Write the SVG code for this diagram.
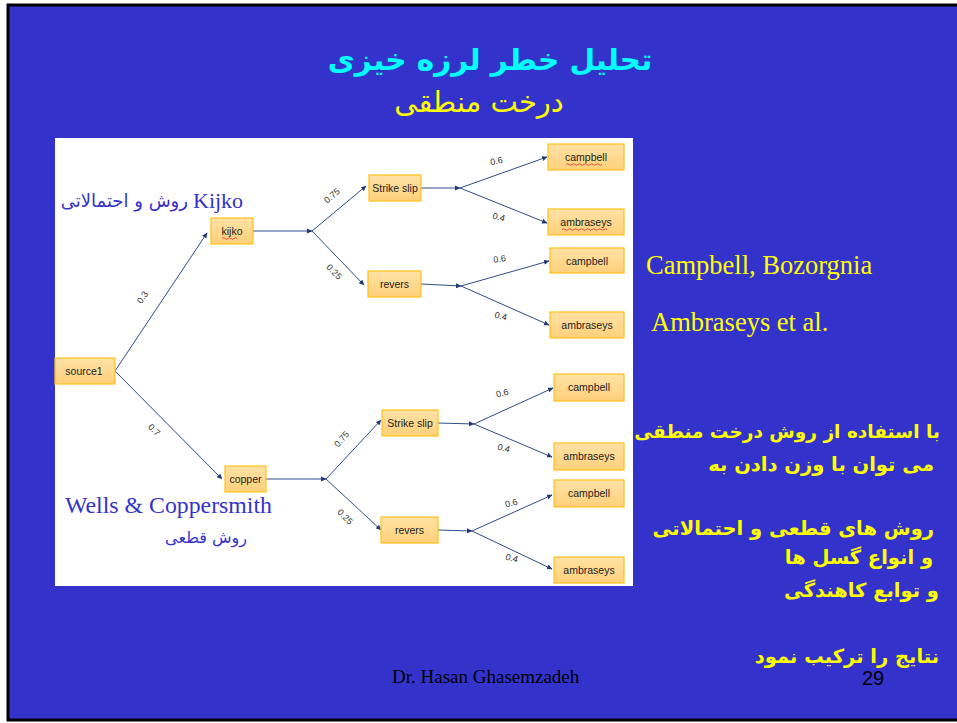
<svg xmlns="http://www.w3.org/2000/svg" width="957" height="723" viewBox="0 0 957 723">
<defs>
<marker id="ah" markerWidth="6" markerHeight="6" refX="5" refY="3" orient="auto" markerUnits="userSpaceOnUse">
<path d="M0,0.5 L5.5,3 L0,5.5 z" fill="#1F3A78"/>
</marker>
<linearGradient id="ng" x1="0" y1="0" x2="0" y2="1">
<stop offset="0" stop-color="#FFE2A6"/>
<stop offset="1" stop-color="#FFD07A"/>
</linearGradient>
</defs>
<style>
.node rect{fill:url(#ng);stroke:#FFC21A;stroke-width:1.2}
.node text{font-family:"Liberation Sans",Arial,sans-serif;font-size:10.5px;fill:#222;text-anchor:middle}
.conn line,.conn path{stroke:#2E4C88;stroke-width:1;fill:none}
.arr{marker-end:url(#ah)}
.el{font-family:"Liberation Sans",Arial,sans-serif;font-size:9px;fill:#333;text-anchor:middle}
.fa{font-family:"DejaVu Sans",sans-serif}
.ser{font-family:"Liberation Serif","Times New Roman",serif}
.sq{stroke:#E03030;stroke-width:0.8;fill:none}
</style>
<rect x="0" y="0" width="957" height="723" fill="#FFFFFF"/>
<rect x="8" y="5" width="960" height="715" fill="#3333CC" stroke="#000" stroke-width="3"/>

<text x="490" y="70" class="fa" font-size="29.5" font-weight="bold" fill="#00FFFF" text-anchor="middle">تحلیل خطر لرزه خیزی</text>
<text x="479" y="112" class="fa" font-size="29" fill="#FFFF00" text-anchor="middle">درخت منطقی</text>

<rect x="55" y="138" width="578" height="448" fill="#FFFFFF"/>

<g id="annotations">
<text x="193" y="208" class="ser" font-size="22" fill="#3333CC">Kijko</text>
<text x="188" y="207" class="fa" font-size="18" fill="#3333CC" text-anchor="end">روش و احتمالاتی</text>
<text x="65" y="513" class="ser" font-size="23.8" fill="#3333CC">Wells &amp; Coppersmith</text>
<text x="247" y="543" class="fa" font-size="16" fill="#3333CC" text-anchor="end">روش قطعی</text>
</g>

<g class="conn" id="connectors">
<line x1="115" y1="371" x2="207" y2="233" class="arr"/>
<line x1="115" y1="371" x2="222" y2="479" class="arr"/>
<line x1="253" y1="231" x2="312" y2="231" class="arr"/>
<line x1="312" y1="231" x2="366" y2="186" class="arr"/>
<line x1="312" y1="231" x2="364" y2="285" class="arr"/>
<line x1="421" y1="188" x2="460" y2="188" class="arr"/>
<line x1="460" y1="188" x2="547" y2="157" class="arr"/>
<line x1="460" y1="188" x2="547" y2="223" class="arr"/>
<line x1="421" y1="284" x2="461" y2="286" class="arr"/>
<line x1="461" y1="286" x2="549" y2="261" class="arr"/>
<line x1="461" y1="286" x2="549" y2="325" class="arr"/>
<line x1="266" y1="479" x2="326" y2="479" class="arr"/>
<line x1="326" y1="479" x2="381" y2="420" class="arr"/>
<line x1="326" y1="479" x2="381" y2="530" class="arr"/>
<line x1="438" y1="423" x2="474" y2="424" class="arr"/>
<line x1="474" y1="424" x2="553" y2="388" class="arr"/>
<line x1="474" y1="424" x2="552" y2="457" class="arr"/>
<line x1="438" y1="530" x2="472" y2="531" class="arr"/>
<line x1="472" y1="531" x2="552" y2="495" class="arr"/>
<line x1="472" y1="531" x2="552" y2="569" class="arr"/>
<g id="edge-labels">
<text class="el" transform="translate(145,299) rotate(-56)">0.3</text>
<text class="el" transform="translate(152,432) rotate(45)">0.7</text>
<text class="el" transform="translate(334,198) rotate(-40)">0.75</text>
<text class="el" transform="translate(332,274) rotate(45)">0.25</text>
<text class="el" transform="translate(497,164) rotate(-12)">0.6</text>
<text class="el" transform="translate(498,220) rotate(15)">0.4</text>
<text class="el" transform="translate(500,262) rotate(-8)">0.6</text>
<text class="el" transform="translate(500,319) rotate(15)">0.4</text>
<text class="el" transform="translate(344,441) rotate(-50)">0.75</text>
<text class="el" transform="translate(343,519) rotate(45)">0.25</text>
<text class="el" transform="translate(503,396) rotate(-15)">0.6</text>
<text class="el" transform="translate(503,451) rotate(15)">0.4</text>
<text class="el" transform="translate(512,506) rotate(-15)">0.6</text>
<text class="el" transform="translate(511,561) rotate(15)">0.4</text>
</g>
</g>

<g id="source1" class="node"><rect x="55" y="358" width="60" height="26"/><text x="84" y="375">source1</text></g>
<g id="kijko" class="node"><rect x="211" y="218" width="42" height="26"/><text x="232" y="235">kijko</text><path class="sq" d="M222,238.5 q1.5,-1.5 3,0 t3,0 t3,0 t3,0 t3,0"/></g>
<g id="copper" class="node"><rect x="225" y="466" width="41" height="26"/><text x="245.5" y="483">copper</text></g>
<g id="strike1" class="node"><rect x="369" y="175" width="52" height="26"/><text x="395" y="192">Strike slip</text></g>
<g id="revers1" class="node"><rect x="368" y="271" width="53" height="26"/><text x="394.5" y="288">revers</text></g>
<g id="campbell1" class="node"><rect x="548" y="144" width="76" height="26"/><text x="586" y="161">campbell</text><path class="sq" d="M566,164.5 q1.5,-1.5 3,0 t3,0 t3,0 t3,0 t3,0 t3,0 t3,0 t3,0 t3,0 t3,0 t3,0 t3,0"/></g>
<g id="ambraseys1" class="node"><rect x="548" y="209" width="76" height="26"/><text x="586" y="226">ambraseys</text><path class="sq" d="M562,229.5 q1.5,-1.5 3,0 t3,0 t3,0 t3,0 t3,0 t3,0 t3,0 t3,0 t3,0 t3,0 t3,0 t3,0 t3,0 t3,0 t3,0"/></g>
<g id="campbell2" class="node"><rect x="550" y="248" width="74" height="25"/><text x="587" y="265">campbell</text></g>
<g id="ambraseys2" class="node"><rect x="550" y="312" width="74" height="26"/><text x="587" y="329">ambraseys</text></g>
<g id="strike2" class="node"><rect x="382" y="410" width="56" height="26"/><text x="410" y="427">Strike slip</text></g>
<g id="revers2" class="node"><rect x="381" y="517" width="57" height="26"/><text x="409.5" y="534">revers</text></g>
<g id="campbell3" class="node"><rect x="554" y="374" width="70" height="27"/><text x="589" y="391">campbell</text></g>
<g id="ambraseys3" class="node"><rect x="554" y="443" width="70" height="27"/><text x="589" y="460">ambraseys</text></g>
<g id="campbell4" class="node"><rect x="554" y="480" width="70" height="27"/><text x="589" y="497">campbell</text></g>
<g id="ambraseys4" class="node"><rect x="554" y="557" width="70" height="26"/><text x="589" y="574">ambraseys</text></g>

<g id="side-text" fill="#FFFF00">
<text x="646" y="274" class="ser" font-size="26.5">Campbell, Bozorgnia</text>
<text x="651" y="331" class="ser" font-size="26.5">Ambraseys et al.</text>
<g class="fa" font-weight="bold" font-size="19.5" text-anchor="end">
<text x="940" y="438" font-size="18.5">با استفاده از روش درخت منطقی</text>
<text x="934" y="471">می توان با وزن دادن به</text>
<text x="934" y="535">روش های قطعی و احتمالاتی</text>
<text x="933" y="564">و  انواع گسل ها</text>
<text x="939" y="597">و توابع کاهندگی</text>
<text x="939" y="663">نتایج را ترکیب نمود</text>
</g>
</g>

<text x="392" y="683" class="ser" font-size="19" fill="#000">Dr. Hasan  Ghasemzadeh</text>
<text x="862" y="685" font-family="Liberation Sans,Arial,sans-serif" font-size="20" fill="#000">29</text>
</svg>
